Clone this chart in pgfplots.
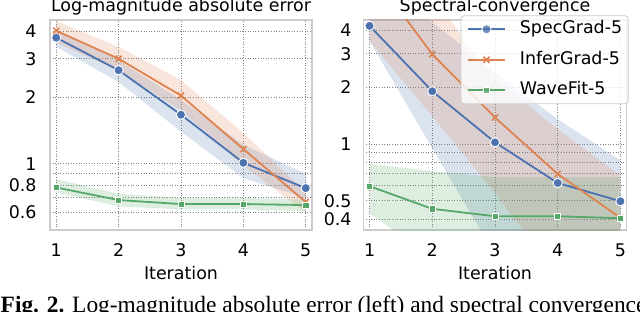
\documentclass[border=0pt]{standalone}
\usepackage{pgfplots}
\pgfplotsset{compat=1.18}
\usepackage{fontspec}
\setmainfont{DejaVu Sans}
\newfontfamily\capfont{Liberation Serif}
\definecolor{sbblue}{HTML}{4C72B0}
\definecolor{sborange}{HTML}{DD8452}
\definecolor{sbgreen}{HTML}{55A868}
\definecolor{framegray}{HTML}{CCCCCC}
\newcommand{\fs}{\fontsize{17.5}{20}\selectfont}
\pgfplotsset{
  myaxisstyle/.style={
    scale only axis, height=210bp,
    xmin=0.9, xmax=5.1,
    xtick={1,2,3,4,5},
    axis line style={framegray, line width=1.1bp},
    major tick length=0pt, minor tick length=0pt,
    grid=both,
    major grid style={dash pattern=on 1bp off 1.6bp, black!50, line width=0.9bp},
    minor grid style={dash pattern=on 1bp off 1.6bp, black!50, line width=0.9bp},
    tick label style={font=\fs},
    xticklabel style={inner sep=0pt, anchor=north, yshift=-13.3bp},
    every axis title/.style={font=\fs, at={(0.5,1)}, anchor=base, yshift=8bp, inner sep=0pt},
    xlabel style={font=\fs, at={(axis description cs:0.5,0)}, anchor=base, yshift=-49.5bp, inner sep=0pt},
    xlabel={Iteration},
  },
  bandblue/.style={fill=sbblue, fill opacity=0.2, draw=none, forget plot},
  bandorange/.style={fill=sborange, fill opacity=0.2, draw=none, forget plot},
  bandgreen/.style={fill=sbgreen, fill opacity=0.2, draw=none, forget plot},
  lblue/.style={color=sbblue, line width=1.8bp, mark=*, mark size=4.6bp, mark options={fill=sbblue, draw=white, line width=0.9bp}},
  lorange/.style={color=sborange, line width=1.8bp, mark=x, mark size=4.3bp, mark options={line width=1.7bp}},
  lgreen/.style={color=sbgreen, line width=1.8bp, mark=square*, mark size=3.1bp, mark options={fill=sbgreen, draw=white, line width=0.7bp}},
}
\begin{document}
\begin{tikzpicture}
% ---------- left panel ----------
\begin{axis}[myaxisstyle, ymode=log, width=262bp, at={(50bp,82bp)}, anchor=south west,
  ymin=0.5, ymax=4.5,
  ytick={0.6,0.8,1,2,3,4}, yticklabels={0.6,0.8,1,2,3,4},
  minor ytick={0.7,0.9},
  yticklabel style={inner sep=0pt, anchor=east, xshift=-13.3bp},
  title={Log-magnitude absolute error},
  /pgf/number format/assume math mode=true]
\addplot[bandblue] coordinates {(1,3.40) (2,2.35) (3,1.40) (4,0.86) (5,0.70) (5,0.90) (4,1.22) (3,1.95) (2,2.95) (1,4.05)} -- cycle;
\addplot[bandorange] coordinates {(1,3.55) (2,2.65) (3,1.75) (4,0.98) (5,0.60) (5,0.74) (4,1.38) (3,2.40) (2,3.40) (1,4.45)} -- cycle;
\addplot[bandgreen] coordinates {(1,0.74) (2,0.64) (3,0.62) (4,0.62) (5,0.61) (5,0.69) (4,0.70) (3,0.70) (2,0.73) (1,0.85)} -- cycle;
\addplot[lblue] coordinates {(1,3.74) (2,2.66) (3,1.67) (4,1.01) (5,0.775)};
\addplot[lorange] coordinates {(1,4.02) (2,3.00) (3,2.04) (4,1.166) (5,0.67)};
\addplot[lgreen] coordinates {(1,0.78) (2,0.684) (3,0.656) (4,0.656) (5,0.649)};
\end{axis}
% ---------- right panel ----------
\begin{axis}[myaxisstyle, ymode=log, width=263.4bp, at={(363.3bp,82bp)}, anchor=south west,
  ymin=0.351, ymax=4.52,
  ytick={0.4,0.5,1,2,3,4}, yticklabels={0.4,0.5,1,2,3,4},
  minor ytick={0.6,0.7,0.8,0.9},
  yticklabel style={inner sep=0pt, anchor=east, xshift=-11.6bp},
  title={Spectral-convergence},
  legend cell align=left,
  legend image code/.code={\draw[mark repeat=2,mark phase=2] plot coordinates {(0bp,0bp) (18.5bp,0bp) (37bp,0bp)};},
  legend style={at={(1.007,1.022)}, anchor=north east, fill=white, fill opacity=0.8, text opacity=1,
    draw=framegray, line width=0.8bp, rounded corners=3bp, font=\fs, inner xsep=6bp, inner ysep=5bp,
    row sep=13.5bp, nodes={inner sep=0pt, text height=13bp, text depth=4bp},
    /tikz/every odd column/.style={column sep=14bp}},
  /pgf/number format/assume math mode=true]
\addplot[bandblue] coordinates {(1,3.50) (2,0.95) (3,0.26) (4,0.15) (5,0.15) (5,0.82) (4,1.35) (3,2.40) (2,4.40) (1,8.6)} -- cycle;
\addplot[bandorange] coordinates {(1,3.50) (2,1.40) (3,0.55) (4,0.20) (5,0.20) (5,0.68) (4,1.20) (3,2.20) (2,6.0) (1,20.0)} -- cycle;
\addplot[bandgreen] coordinates {(1,0.43) (2,0.25) (3,0.20) (4,0.20) (5,0.20) (5,0.667) (4,0.667) (3,0.667) (2,0.72) (1,0.784)} -- cycle;
\addplot[lblue] coordinates {(1,4.21) (2,1.90) (3,1.02) (4,0.622) (5,0.498)};
\addplot[lorange] coordinates {(1,8.3) (2,2.98) (3,1.38) (4,0.694) (5,0.407)};
\addplot[lgreen] coordinates {(1,0.598) (2,0.454) (3,0.415) (4,0.415) (5,0.405)};
\legend{SpecGrad-5, InferGrad-5, WaveFit-5}
\end{axis}
% ---------- caption ----------
\node[anchor=base west, inner sep=0pt, font=\capfont\fontsize{23.5}{26}\selectfont] at (0.5bp,0bp)
  {\textbf{Fig. 2.} Log-magnitude absolute error (left) and spectral convergence (right)};
\pgfresetboundingbox
\useasboundingbox (0,0) rectangle (640bp,312bp);
\end{tikzpicture}
\end{document}
